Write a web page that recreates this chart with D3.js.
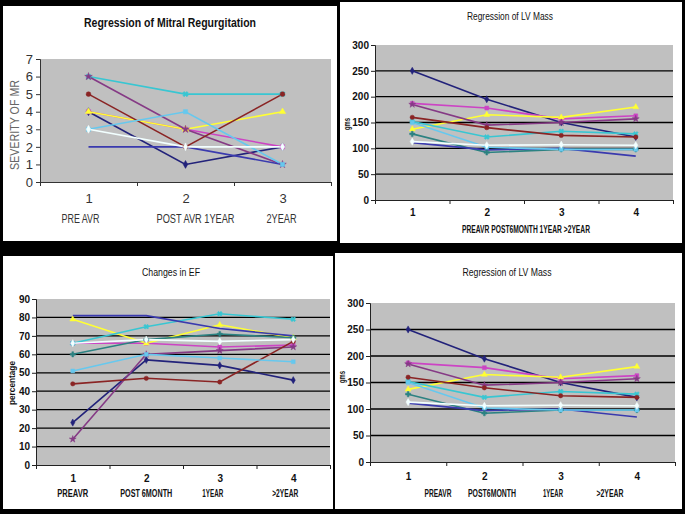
<!DOCTYPE html>
<html><head><meta charset="utf-8">
<script src="https://cdn.jsdelivr.net/npm/d3@7"></script>
<style>body{margin:0;background:#000;}svg{display:block}</style>
</head><body><svg id="c" width="685" height="514"></svg>
<script>
// ---------- DATA ----------
// Panel 1: Regression of Mitral Regurgitation
const mrCategories = ["1", "2", "3"];
const mrCategoryLabels = ["PRE AVR", "POST AVR 1YEAR", "2YEAR"];
const mrTicks = [0, 1, 2, 3, 4, 5, 6, 7];
const mrNavy = [4, 1, 2];
const mrMagenta = [4, 3, 2];
const mrYellow = [4, 3, 4];
const mrTurquoise = [6, 5, 5];
const mrPurple = [6, 3, 1];
const mrDarkRed = [5, 2, 5];
const mrBlue = [2, 2, 1];
const mrSky = [3, 4, 1];
const mrLightTurq = [3, 2, 2];

// Panels 2 & 4: Regression of LV Mass
const lvCategories = ["1", "2", "3", "4"];
const lvAxisTitle = "PREAVR POST6MONTH  1YEAR    >2YEAR";
const lvCategoryLabels = ["PREAVR", "POST6MONTH", "1YEAR", ">2YEAR"];
const lvTicks = [0, 50, 100, 150, 200, 250, 300];
const lvNavy = [250, 195, 150, 122];
const lvMagenta = [187, 178, 157, 163];
const lvYellow = [137, 165, 160, 180];
const lvTurquoise = [152, 122, 133, 128];
const lvPurple = [185, 145, 150, 157];
const lvDarkRed = [160, 140, 125, 122];
const lvTeal = [128, 92, 98, 98];
const lvBlue = [111, 97, 100, 85];
const lvSky = [150, 102, 98, 98];
const lvLightTurq = [113, 106, 107, 106];

// Panel 3: Changes in EF
const efCategories = ["1", "2", "3", "4"];
const efCategoryLabels = ["PREAVR", "POST 6MONTH", "1YEAR", ">2YEAR"];
const efTicks = [0, 10, 20, 30, 40, 50, 60, 70, 80, 90];
const efBlue = [81, 81, 74, 70];
const efYellow = [79, 66, 76, 69];
const efLightTurq = [66, 68, 67, 68];
const efTurquoise = [66, 75, 82, 79];
const efMagenta = [66, 66, 64, 65];
const efTeal = [60, 68, 71, 69];
const efSky = [51, 60, 58, 56];
const efPurple = [14, 60, 62, 64];
const efNavy = [23, 57, 54, 46];
const efDarkRed = [44, 47, 45, 67];

// ---------- STYLES ----------
const styles = {
  navy:      {color: "#22227a", sym: d3.symbolDiamond, rot: 0},
  magenta:   {color: "#cc44c4", sym: d3.symbolSquare, rot: 0},
  yellow:    {color: "#ffff33", sym: d3.symbolTriangle, rot: 0},
  turquoise: {color: "#38c6d2", sym: d3.symbolCross, rot: 45},
  purple:    {color: "#853a85", sym: d3.symbolStar, rot: 0},
  darkred:   {color: "#8a2424", sym: d3.symbolCircle, rot: 0},
  teal:      {color: "#2c8282", sym: d3.symbolCross, rot: 0},
  blue:      {color: "#3a3aae", sym: null, rot: 0},
  sky:       {color: "#66c8ee", sym: d3.symbolSquare, rot: 0},
  lightTurq: {color: "#f2ffff", sym: d3.symbolDiamond, rot: 0}
};

const mrSeries = [
  ["navy", mrNavy], ["magenta", mrMagenta], ["yellow", mrYellow], ["turquoise", mrTurquoise],
  ["purple", mrPurple], ["darkred", mrDarkRed], ["blue", mrBlue], ["sky", mrSky], ["lightTurq", mrLightTurq]
];
const lvSeries = [
  ["navy", lvNavy], ["magenta", lvMagenta], ["yellow", lvYellow], ["turquoise", lvTurquoise],
  ["purple", lvPurple], ["darkred", lvDarkRed], ["teal", lvTeal], ["blue", lvBlue], ["sky", lvSky], ["lightTurq", lvLightTurq]
];
const efSeries = [
  ["navy", efNavy], ["magenta", efMagenta], ["yellow", efYellow], ["turquoise", efTurquoise],
  ["purple", efPurple], ["darkred", efDarkRed], ["teal", efTeal], ["blue", efBlue], ["sky", efSky], ["lightTurq", efLightTurq]
];

const svg = d3.select("#c");
svg.append("rect").attr("width", 685).attr("height", 514).attr("fill", "#000");

const NARROW = "'Liberation Sans Narrow','Arial Narrow','Liberation Sans',Arial,sans-serif";
const REG = "'Liberation Sans',Arial,sans-serif";

function drawPanel(c) {
  svg.append("rect").attr("x", c.rect[0]).attr("y", c.rect[1]).attr("width", c.rect[2]).attr("height", c.rect[3]).attr("fill", "#fff");
  const g = svg.append("g");
  const y = d3.scaleLinear().domain([0, c.yMax]).range([c.y0, c.y1]);
  const xb = d3.scaleLinear().domain([0, c.cats.length]).range([c.x0, c.x1]);
  const x = d3.scalePoint().domain(c.cats).range([c.x0, c.x1]).padding(0.5);

  g.append("rect").attr("x", c.x0).attr("y", c.y1).attr("width", c.x1 - c.x0).attr("height", c.y0 - c.y1).attr("fill", "#c0c0c0");

  if (c.grid) {
    g.append("g").selectAll("line").data(c.ticks.filter(t => t > 0 && t < c.yMax)).join("line")
      .attr("x1", c.x0).attr("x2", c.x1).attr("y1", d => y(d)).attr("y2", d => y(d))
      .attr("stroke", "#000").attr("stroke-width", 1.3);
  }

  // y axis
  const ya = g.append("g").attr("transform", `translate(${c.x0},0)`)
    .call(d3.axisLeft(y).tickValues(c.ticks).tickSize(4).tickPadding(c.yPad).tickFormat(d3.format("d")));
  ya.select(".domain").attr("stroke", c.axisColor);
  ya.selectAll(".tick line").attr("stroke", c.axisColor);
  ya.selectAll("text").attr("font-family", c.tickFont).attr("font-size", c.yFontSize).attr("fill", c.textColor).attr("font-weight", c.tickWeight);

  // x axis with boundary ticks
  const xa = g.append("g").attr("transform", `translate(0,${c.y0})`)
    .call(d3.axisBottom(xb).tickValues(d3.range(c.cats.length + 1)).tickSize(4).tickFormat(""));
  xa.select(".domain").attr("stroke", c.axisColor);
  xa.selectAll(".tick line").attr("stroke", c.axisColor);
  const xl = g.append("g").attr("transform", `translate(0,${c.y0})`)
    .call(d3.axisBottom(x).tickSize(0).tickPadding(c.xPad));
  xl.select(".domain").remove();
  xl.selectAll("text").attr("font-family", c.tickFont).attr("font-size", c.xFontSize).attr("fill", c.textColor).attr("font-weight", c.tickWeight);

  // lines
  const line = d3.line().x((d, i) => x(c.cats[i])).y(d => y(d));
  c.series.forEach(([key, vals]) => {
    const s = styles[key];
    g.append("path").attr("d", line(vals)).attr("fill", "none").attr("stroke", s.color).attr("stroke-width", 1.6);
  });
  c.series.forEach(([key, vals]) => {
    const s = styles[key];
    if (!s.sym) return;
    g.append("g").selectAll("path").data(vals).join("path")
      .attr("d", d3.symbol().type(s.sym).size(c.markerSize))
      .attr("transform", (d, i) => `translate(${x(c.cats[i])},${y(d)}) rotate(${s.rot})`)
      .attr("fill", s.color).attr("stroke", s.color).attr("stroke-width", 0.5);
  });

  // title
  g.append("text").attr("x", c.title.x).attr("y", c.title.y).attr("text-anchor", "middle")
    .attr("font-family", c.title.font).attr("font-size", c.title.size).attr("font-weight", c.title.weight)
    .attr("fill", "#111").attr("textLength", c.title.len).attr("lengthAdjust", "spacingAndGlyphs").text(c.title.text);

  // y title
  g.append("text").attr("transform", `translate(${c.yTitle.x},${c.yTitle.y}) rotate(-90)`).attr("text-anchor", "middle")
    .attr("font-family", c.yTitle.font).attr("font-size", c.yTitle.size).attr("fill", c.yTitle.color)
    .attr("font-weight", c.yTitle.weight || "normal")
    .attr("textLength", c.yTitle.len).attr("lengthAdjust", "spacingAndGlyphs").text(c.yTitle.text);

  // category labels
  c.catLabels.forEach((lab, i) => {
    g.append("text").attr("x", lab.x !== undefined ? lab.x : x(c.cats[i]) + (lab.dx || 0)).attr("y", c.catLabelY)
      .attr("text-anchor", "middle").attr("font-family", c.catFont).attr("font-size", c.catFontSize)
      .attr("font-weight", c.catWeight).attr("fill", c.textColor)
      .attr("textLength", lab.len).attr("lengthAdjust", "spacingAndGlyphs").text(lab.text);
  });
}

// Panel 1
drawPanel({
  rect: [3, 6, 334, 235], x0: 40, x1: 331, y0: 182, y1: 59, yMax: 7, ticks: mrTicks, grid: false,
  cats: mrCategories, series: mrSeries, markerSize: 18,
  axisColor: "#333", textColor: "#333", tickFont: REG, tickWeight: "normal", yFontSize: 13, xFontSize: 13, yPad: 3, xPad: 12,
  title: {text: "Regression of Mitral Regurgitation", x: 170, y: 27, size: 13, weight: "bold", font: NARROW, len: 172},
  yTitle: {text: "SEVERITY OF MR", x: 19, y: 125, size: 12, font: REG, color: "#666", len: 90},
  catLabels: [
    {text: mrCategoryLabels[0], dx: -8, len: 38},
    {text: mrCategoryLabels[1], dx: 10, len: 78},
    {text: mrCategoryLabels[2], dx: -1, len: 30}
  ],
  catLabelY: 223, catFont: NARROW, catFontSize: 13, catWeight: "normal"
});

// Panel 2
drawPanel({
  rect: [340, 2, 342, 241], x0: 375, x1: 673, y0: 200, y1: 45, yMax: 300, ticks: lvTicks, grid: true,
  cats: lvCategories, series: lvSeries, markerSize: 15,
  axisColor: "#222", textColor: "#111", tickFont: NARROW, tickWeight: "bold", yFontSize: 10, xFontSize: 10, yPad: 2, xPad: 9,
  title: {text: "Regression of LV Mass", x: 510, y: 20, size: 11, weight: "normal", font: NARROW, len: 86},
  yTitle: {text: "gms", x: 350, y: 124, size: 9, font: NARROW, color: "#111", len: 12, weight: "bold"},
  catLabels: [{text: lvAxisTitle, x: 526, len: 128}],
  catLabelY: 233, catFont: NARROW, catFontSize: 10, catWeight: "bold"
});

// Panel 3
drawPanel({
  rect: [3, 256, 330, 253], x0: 36, x1: 330, y0: 465, y1: 299, yMax: 90, ticks: efTicks, grid: true,
  cats: efCategories, series: efSeries, markerSize: 15,
  axisColor: "#222", textColor: "#111", tickFont: NARROW, tickWeight: "bold", yFontSize: 10, xFontSize: 10, yPad: 2, xPad: 10,
  title: {text: "Changes in EF", x: 171, y: 276, size: 11, weight: "normal", font: NARROW, len: 58},
  yTitle: {text: "percentage", x: 15, y: 383, size: 9, font: NARROW, color: "#111", len: 44, weight: "bold"},
  catLabels: [
    {text: efCategoryLabels[0], len: 31},
    {text: efCategoryLabels[1], len: 52},
    {text: efCategoryLabels[2], dx: -7, len: 21},
    {text: efCategoryLabels[3], dx: -8, len: 26}
  ],
  catLabelY: 497, catFont: NARROW, catFontSize: 10, catWeight: "bold"
});

// Panel 4
drawPanel({
  rect: [335, 253, 347, 256], x0: 370, x1: 675, y0: 462, y1: 303, yMax: 300, ticks: lvTicks, grid: true,
  cats: lvCategories, series: lvSeries, markerSize: 15,
  axisColor: "#222", textColor: "#111", tickFont: NARROW, tickWeight: "bold", yFontSize: 10, xFontSize: 10, yPad: 2, xPad: 11,
  title: {text: "Regression of LV Mass", x: 507, y: 276, size: 11, weight: "normal", font: NARROW, len: 89},
  yTitle: {text: "gms", x: 345, y: 377, size: 9, font: NARROW, color: "#111", len: 12, weight: "bold"},
  catLabels: [
    {text: lvCategoryLabels[0], x: 438, len: 27},
    {text: lvCategoryLabels[1], x: 492, len: 48},
    {text: lvCategoryLabels[2], x: 553, len: 20},
    {text: lvCategoryLabels[3], x: 610, len: 27}
  ],
  catLabelY: 497, catFont: NARROW, catFontSize: 10, catWeight: "bold"
});
</script>
</body></html>
